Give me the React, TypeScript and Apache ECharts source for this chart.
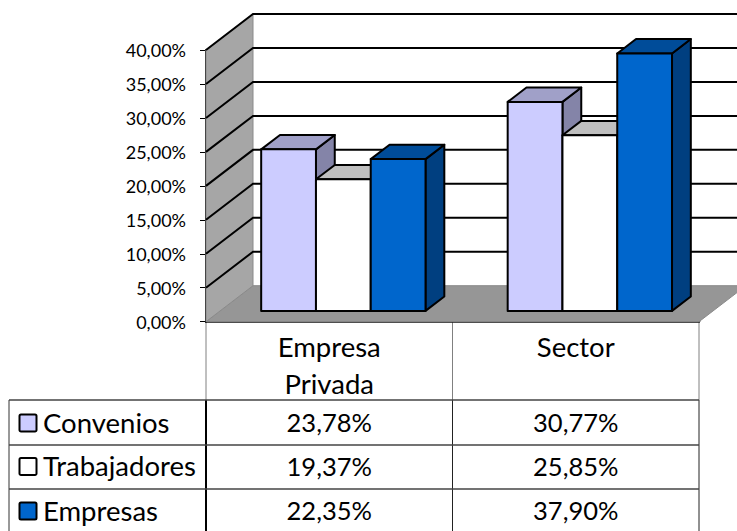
import React, { useEffect, useRef } from "react";
import * as echarts from "echarts";

const categories = ["Empresa\nPrivada", "Sector"];
const tickValues = [0, 5, 10, 15, 20, 25, 30, 35, 40];
const seriesNames = ["Convenios", "Trabajadores", "Empresas"];
const convenios = [23.78, 30.77];
const trabajadores = [19.37, 25.85];
const empresas = [22.35, 37.9];
const allValues = [convenios, trabajadores, empresas];
const faceColors = [
  { front: "#CCCCFF", top: "#A0A0C8", side: "#8484A8" },
  { front: "#FFFFFF", top: "#BFBFBF", side: "#A6A6A6" },
  { front: "#0066CC", top: "#004C99", side: "#003F80" },
];
const FONT = "Lato, Carlito, sans-serif";
const DX = 47;
const DY = -36;
const pct = (v: number) => v.toFixed(2).replace(".", ",") + "%";

function wallItem(_: any, api: any) {
  const band = api.size([1, 0])[0];
  const xL = api.coord([0, 0])[0] - band / 2;
  const xR = api.coord([1, 0])[0] + band / 2;
  const y0 = api.coord([0, 0])[1];
  const y40 = api.coord([0, 40])[1];
  const children: any[] = [
    {
      type: "polygon",
      shape: { points: [[xL, y0], [xR, y0], [xR + DX, y0 + DY], [xL + DX, y0 + DY]] },
      style: { fill: "#969696", stroke: "#8a8a8a", lineWidth: 1 },
    },
    {
      type: "polygon",
      shape: { points: [[xL, y40], [xL + DX, y40 + DY], [xL + DX, y0 + DY], [xL, y0]] },
      style: { fill: "#A6A6A6", stroke: "#8a8a8a", lineWidth: 1 },
    },
  ];
  tickValues.forEach((t) => {
    if (t === 0) return;
    const y = api.coord([0, t])[1];
    children.push({
      type: "polyline",
      shape: { points: [[xL, y], [xL + DX, y + DY], [xR + DX, y + DY]] },
      style: { fill: "none", stroke: "#000", lineWidth: 2 },
    });
  });
  return { type: "group", children };
}

const barItem = (s: number) => (_: any, api: any) => {
  const band = api.size([1, 0])[0];
  const w = band / 4.5;
  const p = api.coord([api.value(0), api.value(1)]);
  const base = api.coord([api.value(0), 0]);
  const x = p[0] - band / 2 + w * (0.75 + s) + DX * 0.3;
  const yTop = p[1] + DY * 0.3;
  const yBot = base[1] + DY * 0.3;
  const ox = DX * 0.4;
  const oy = DY * 0.4;
  const c = faceColors[s];
  const stroke = { stroke: "#000", lineWidth: 2, lineJoin: "round" };
  return {
    type: "group",
    children: [
      {
        type: "polygon",
        shape: { points: [[x + w, yTop], [x + w + ox, yTop + oy], [x + w + ox, yBot + oy], [x + w, yBot]] },
        style: { fill: c.side, ...stroke },
      },
      {
        type: "polygon",
        shape: { points: [[x, yTop], [x + ox, yTop + oy], [x + w + ox, yTop + oy], [x + w, yTop]] },
        style: { fill: c.top, ...stroke },
      },
      {
        type: "rect",
        shape: { x, y: yTop, width: w, height: yBot - yTop },
        style: { fill: c.front, ...stroke },
      },
    ],
  };
};

const rowY = [400, 445, 489, 534];
const colX = [9, 206, 452.5, 699];

function tableGraphics() {
  const line = (x1: number, y1: number, x2: number, y2: number, stroke: string, lineWidth = 1.5) => ({
    type: "line",
    shape: { x1, y1, x2, y2 },
    style: { stroke, lineWidth },
  });
  const out: any[] = [
    line(colX[1], 322, colX[1], rowY[0], "#808080", 1),
    line(colX[2], 322, colX[2], rowY[0], "#808080", 1),
    line(colX[3], 322, colX[3], rowY[0], "#808080", 1),
    line(colX[0], rowY[0], colX[0], 531, "#333", 1),
    line(colX[1], rowY[0], colX[1], 531, "#000", 2),
    line(colX[2], rowY[0], colX[2], 531, "#222", 1),
    line(colX[3], rowY[0], colX[3], 531, "#222", 1),
  ];
  rowY.slice(0, 3).forEach((y) => out.push(line(colX[0], y, colX[3], y, "#444", 1.5)));
  seriesNames.forEach((name, s) => {
    const cy = (rowY[s] + rowY[s + 1]) / 2 + (s === 0 ? 1 : 0);
    out.push({
      type: "rect",
      shape: { x: 19.5, y: cy - 9, width: 17, height: 17, r: 1.5 },
      style: { fill: faceColors[s].front, stroke: "#000", lineWidth: 2 },
    });
    out.push({
      type: "text",
      x: 43,
      y: cy - 1.5,
      style: { text: name, font: `27.5px ${FONT}`, fill: "#000", textAlign: "left", textVerticalAlign: "middle" },
    });
    allValues[s].forEach((v, c) => {
      out.push({
        type: "text",
        x: (colX[c + 1] + colX[c + 2]) / 2,
        y: cy - 1.5,
        style: { text: pct(v), font: `25.5px ${FONT}`, fill: "#000", textAlign: "center", textVerticalAlign: "middle" },
      });
    });
  });
  return out;
}

export default function App() {
  const ref = useRef<HTMLDivElement>(null);
  useEffect(() => {
    document.body.style.margin = "0";
    const chart = echarts.init(ref.current!, undefined, { renderer: "svg" });
    chart.setOption({
      animation: false,
      backgroundColor: "#fff",
      grid: { left: 206, right: 38, top: 50, bottom: 209.3 },
      xAxis: {
        type: "category",
        data: categories,
        axisLine: { lineStyle: { color: "#000", width: 2.5 } },
        axisTick: { show: false },
        axisLabel: { color: "#000", fontFamily: FONT, fontSize: 27.5, lineHeight: 37, margin: 6 },
      },
      yAxis: {
        type: "value",
        min: 0,
        max: 40,
        interval: 5,
        splitLine: { show: false },
        axisLine: { show: true, lineStyle: { color: "#000", width: 2 } },
        axisTick: { show: true, length: 6, lineStyle: { color: "#000", width: 1 } },
        axisLabel: { color: "#000", fontFamily: FONT, fontSize: 18, margin: 20, formatter: (v: number) => pct(v) },
      },
      graphic: tableGraphics(),
      series: [
        { type: "custom", name: "walls", renderItem: wallItem, data: [[0, 0]], encode: { x: 0, y: 1 }, z: 1, silent: true },
        ...seriesNames.map((name, s) => ({
          type: "custom",
          name,
          renderItem: barItem(s),
          data: allValues[s].map((v, c) => [c, v]),
          encode: { x: 0, y: 1 },
          z: 2,
        })),
      ],
    });
    return () => chart.dispose();
  }, []);
  return <div ref={ref} style={{ position: "absolute", left: 0, top: 0, width: 737, height: 531 }} />;
}
